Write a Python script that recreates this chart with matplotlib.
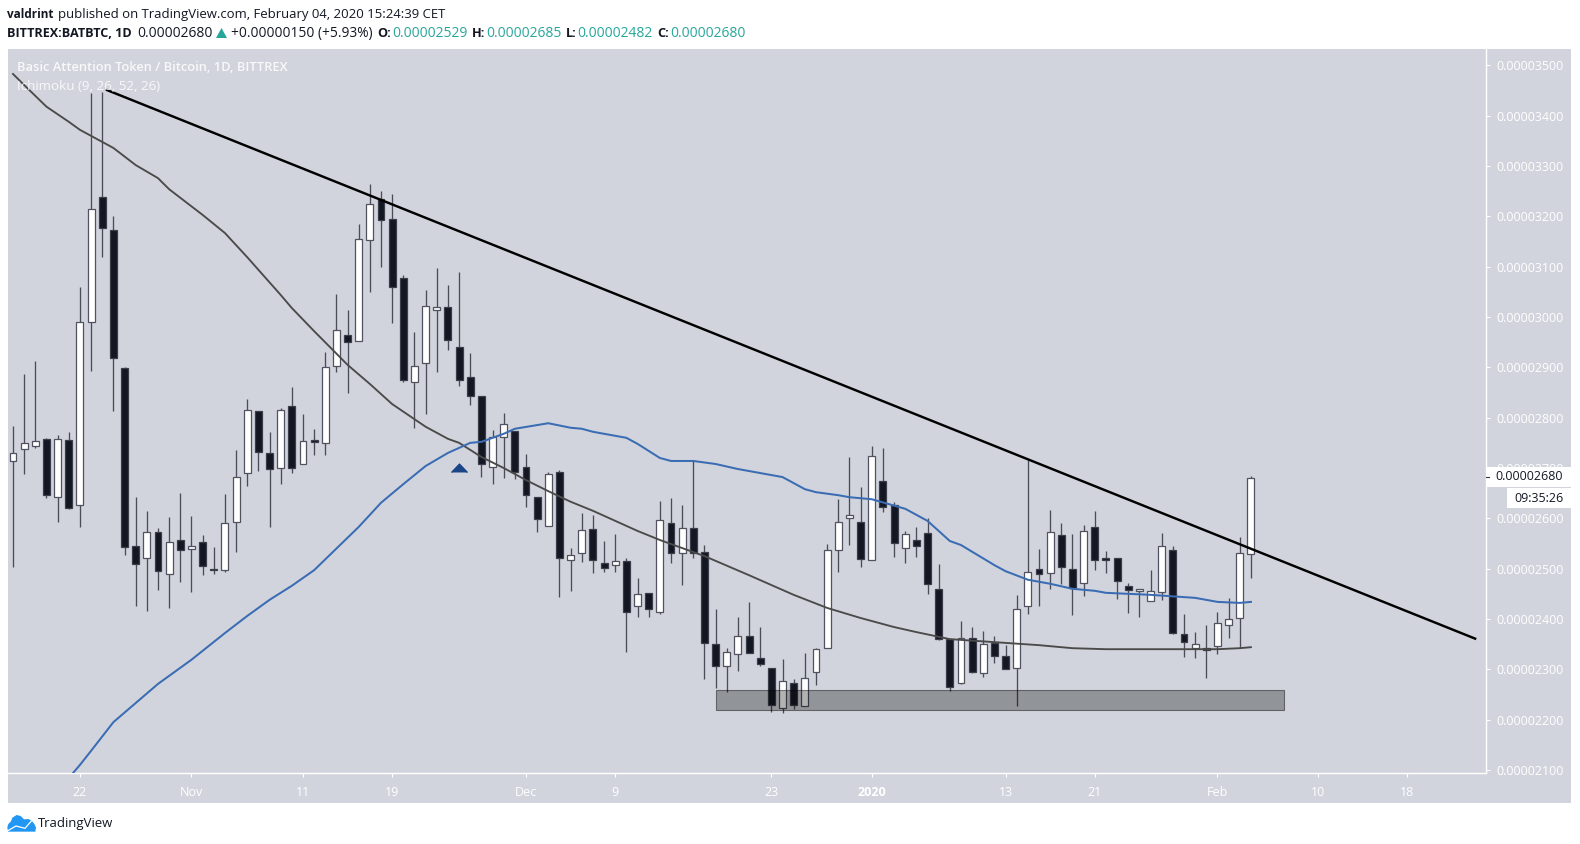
import numpy as np
import matplotlib
matplotlib.use('Agg')
import matplotlib.pyplot as plt
from matplotlib.patches import Rectangle, Polygon

plt.rcParams['font.family'] = ['Open Sans', 'DejaVu Sans']

# daily candles, prices in 1e-8 BTC, first candle is Oct 16 2019
opens = [2714,2738,2744,2758,2642,2756,2627,2991,3239,3172,2899,2546,2522,2573,2489,2557,2539,2553,2499,2497,
         2593,2690,2813,2730,2701,2824,2708,2756,2750,2903,2964,2952,3153,3235,3195,3078,2871,2909,3014,3019,
         2941,2881,2844,2702,2762,2774,2702,2643,2585,2693,2517,2531,2579,2511,2507,2515,2426,2452,2413,2591,
         2531,2581,2533,2350,2307,2330,2367,2323,2303,2223,2273,2227,2295,2342,2537,2601,2592,2517,2675,2627,
         2542,2557,2571,2460,2360,2273,2362,2293,2352,2327,2303,2426,2500,2491,2566,2500,2472,2583,2521,2522,
         2466,2456,2436,2454,2538,2371,2342,2343,2346,2388,2402,2529]
highs = [2784,2887,2913,2760,2766,2772,3060,3445,3447,3201,2901,2643,2615,2581,2603,2650,2605,2567,2543,2648,
         2736,2838,2813,2772,2819,2860,2807,2778,2931,3046,3013,3185,3264,3250,3245,3084,2971,3054,3098,3064,
         3090,2929,2844,2776,2809,2774,2728,2643,2693,2696,2541,2611,2607,2554,2569,2521,2481,2452,2635,2641,
         2627,2715,2547,2420,2342,2404,2434,2384,2303,2321,2281,2333,2343,2549,2639,2722,2663,2744,2740,2633,
         2575,2583,2601,2509,2360,2396,2384,2376,2366,2348,2448,2716,2539,2617,2591,2569,2587,2615,2536,2522,
         2472,2460,2497,2571,2545,2410,2374,2388,2414,2442,2562,2685]
lows = [2503,2688,2740,2641,2593,2619,2583,2893,3119,2814,2527,2426,2416,2458,2422,2474,2454,2487,2489,2494,
        2534,2665,2695,2583,2668,2690,2708,2725,2726,2891,2849,2952,3050,3100,2989,2871,2780,2807,2891,2935,
        2862,2825,2683,2668,2681,2679,2623,2573,2585,2444,2456,2514,2491,2493,2493,2335,2403,2403,2410,2512,
        2468,2521,2281,2263,2255,2297,2332,2307,2215,2213,2221,2227,2268,2342,2494,2547,2504,2517,2613,2523,
        2512,2523,2450,2358,2256,2271,2293,2285,2313,2301,2228,2410,2425,2460,2470,2408,2446,2497,2492,2440,
        2412,2403,2436,2438,2370,2324,2323,2283,2331,2362,2342,2482]
closes = [2730,2749,2754,2646,2758,2621,2990,3215,3177,2919,2544,2509,2573,2495,2553,2537,2546,2506,2497,2591,
          2682,2815,2732,2699,2815,2701,2754,2752,2901,2975,2950,3155,3225,3193,3060,2875,2903,3021,3019,2954,
          2874,2843,2708,2762,2788,2692,2646,2599,2689,2522,2527,2577,2517,2502,2515,2413,2450,2420,2597,2531,
          2581,2531,2352,2307,2334,2367,2332,2311,2229,2277,2229,2283,2340,2537,2593,2607,2519,2724,2623,2551,
          2569,2546,2470,2360,2264,2362,2295,2350,2327,2301,2420,2494,2489,2573,2503,2462,2575,2517,2517,2476,
          2458,2460,2456,2546,2373,2354,2351,2338,2393,2400,2531,2680]

grey_days = [0,1,3,5,6,8,9,11,13,14,17,19,21,22,24,25,27,30,32,34,37,39,40,42,44,46,48,50,52,54,56,58,62,66,70,73,76,79,81,84,88,92,95,98,108,110,111]
grey_vals = [3483,3461,3418,3388,3372,3348,3336,3302,3276,3254,3203,3167,3119,3094,3044,3018,2972,2905,2867,2827,2782,2758,2750,2722,2700,2676,2654,2633,2615,2595,2575,2557,2525,2487,2448,2422,2402,2384,2374,2360,2354,2348,2342,2340,2340,2342,2344]

blue_days = [5,6,7,9,11,13,16,19,21,23,25,27,31,33,35,37,39,41,42,44,45,48,50,51,52,55,56,58,59,61,63,65,69,71,72,74,75,77,80,82,84,85,88,89,91,93,95,97,98,102,106,108,110,111]
blue_vals = [2084,2110,2138,2195,2233,2271,2319,2372,2406,2438,2466,2497,2583,2631,2668,2704,2730,2750,2752,2768,2778,2789,2780,2778,2772,2760,2748,2720,2714,2714,2708,2698,2682,2658,2652,2646,2642,2638,2619,2595,2555,2547,2507,2495,2478,2470,2460,2456,2452,2448,2442,2434,2432,2434]

trend_days = [8.43, 131.1]
trend_vals = [3451, 2361]

zone_days = [63, 114]
zone_vals = [2220, 2258]

arrow_day = 40
arrow_val = 2700

price_ticks = [2100,2200,2300,2400,2500,2600,2700,2800,2900,3000,3100,3200,3300,3400,3500]
price_labels = ['0.%08d' % p for p in price_ticks]
date_ticks = [6,16,26,34,46,54,68,77,89,97,108,117,125]
date_labels = ['22','Nov','11','19','Dec','9','23','2020','13','21','Feb','10','18']

W, H = 1580, 844
PANEL = '#d1d4dc'
DARK = '#131722'
TEAL = '#26a69a'

fig = plt.figure(figsize=(W / 100, H / 100), dpi=100, facecolor='white')

# overlay in pixel coords for everything that is page furniture
ov = fig.add_axes([0, 0, 1, 1], zorder=10)
ov.set_xlim(0, W)
ov.set_ylim(H, 0)
ov.axis('off')
ov.patch.set_alpha(0)

fig.add_artist(Rectangle((8 / W, 1 - 802.7 / H), 1563 / W, (802.7 - 49) / H, transform=fig.transFigure,
                         facecolor=PANEL, edgecolor='none', zorder=-5))

# main chart, limits set so candle i lands at 13 + 11.153 i
L, R, T, B = 8, 1485.7, 49, 773.3
ax = fig.add_axes([L / W, 1 - B / H, (R - L) / W, (B - T) / H], zorder=1)
ax.set_facecolor(PANEL)
ax.set_xlim(-0.448, 132.05)
ax.set_ylim(2093.4, 3532.6)
for s in ['top', 'left']:
    ax.spines[s].set_visible(False)
for s in ['right', 'bottom']:
    ax.spines[s].set_color('white')
    ax.spines[s].set_linewidth(1.0)

days = np.arange(len(opens))
o = np.array(opens)
c = np.array(closes)
up = c >= o
ax.vlines(days, lows, highs, color='#4a4d59', linewidth=0.95, zorder=2)
ax.bar(days[up], np.abs(c - o)[up], bottom=np.minimum(o, c)[up], width=0.62,
       facecolor='white', edgecolor='#50535f', linewidth=0.9, zorder=3)
ax.bar(days[~up], np.abs(c - o)[~up], bottom=np.minimum(o, c)[~up], width=0.62,
       facecolor=DARK, edgecolor='#3b3e4a', linewidth=0.9, zorder=3)

ax.plot(grey_days, grey_vals, color='#4a4a4a', linewidth=1.35, zorder=4)
ax.plot(blue_days, blue_vals, color='#3a6cb4', linewidth=1.45, zorder=4)
ax.plot(trend_days, trend_vals, color='black', linewidth=1.75, zorder=5)

ax.add_patch(Rectangle((zone_days[0], zone_vals[0]), zone_days[1] - zone_days[0], zone_vals[1] - zone_vals[0],
                       facecolor=(0, 0, 0, 0.3), edgecolor=(0, 0, 0, 0.45), linewidth=0.8, zorder=6))
ax.plot([arrow_day], [arrow_val], marker=[(-1, -0.5), (0, 0.55), (1, -0.5)], markersize=11.5,
        color='#1c4587', linestyle='none', zorder=5)

ax.yaxis.tick_right()
ax.set_yticks(price_ticks)
ax.set_yticklabels(price_labels, fontsize=9, color='white')
ax.set_xticks(date_ticks)
ax.set_xticklabels(date_labels, fontsize=9, color='white')
for t in ax.get_xticklabels():
    if t.get_text() == '2020':
        t.set_fontweight('bold')
ax.tick_params(axis='y', length=3, width=0.8, color='white', pad=5)
ax.tick_params(axis='x', length=3, width=0.8, color='white', pad=6)

# watermark
ov.text(17, 67.5, 'Basic Attention Token / Bitcoin, 1D, BITTREX', color='white', alpha=0.85,
        fontsize=9.3, fontweight='semibold', va='center', ha='left')
ov.text(17, 87, 'Ichimoku (9, 26, 52, 26)', color='white', alpha=0.85, fontsize=9.6, va='center', ha='left')

# last price and countdown boxes
ov.add_patch(Rectangle((1486.5, 467), 85, 20, facecolor='white', edgecolor='none'))
ov.add_patch(Rectangle((1507, 488), 64, 20, facecolor='white', edgecolor='none'))
ov.plot([1486, 1489], [477, 477], color='#333333', linewidth=0.8)
ov.text(1495, 477, '0.00002680', color=DARK, fontsize=9, va='center', ha='left')
ov.text(1539, 498, '09:35:26', color=DARK, fontsize=9, va='center', ha='center')

# header rows: x position, text, colour, weight, size
header_top = [(7, 'valdrint', DARK, 'bold', 8.5),
              (58, 'published on TradingView.com, February 04, 2020 15:24:39 CET', DARK, 'normal', 9.45)]
header_bottom = [(7, 'BITTREX:BATBTC, 1D', DARK, 'bold', 9.1),
                 (137, '0.00002680', DARK, 'normal', 10),
                 (231, '+0.00000150 (+5.93%)', DARK, 'normal', 9.9),
                 (377, 'O:', DARK, 'bold', 9.2), (392, '0.00002529', TEAL, 'normal', 10),
                 (472, 'H:', DARK, 'bold', 9.2), (486, '0.00002685', TEAL, 'normal', 10),
                 (566, 'L:', DARK, 'bold', 9.2), (577, '0.00002482', TEAL, 'normal', 10),
                 (657, 'C:', DARK, 'bold', 9.2), (670, '0.00002680', TEAL, 'normal', 10)]
for px, text, col, weight, size in header_top:
    ov.text(px, 14.5, text, color=col, fontweight=weight, fontsize=size, va='center', ha='left')
for px, text, col, weight, size in header_bottom:
    ov.text(px, 33.5, text, color=col, fontweight=weight, fontsize=size, va='center', ha='left')
ov.add_patch(Polygon([(216, 38), (221.5, 28), (227, 38)], facecolor=TEAL, edgecolor='none'))

# TradingView logo
cloud = np.array([(22,232),(25,222),(33,214),(37,203),(50,195),(62,198),(72,208),(85,207),(95,212),(103,222),(108,232),(106,245),(24,245)]) / 3.0 + [0, 750]
ov.add_patch(Polygon(cloud, facecolor='#2196f3', edgecolor='none'))
swoosh = np.array([(22,243),(48,228),(75,235),(95,212)]) / 3.0 + [0, 750]
ov.plot(swoosh[:, 0], swoosh[:, 1], color='white', linewidth=0.9)
ov.text(38, 823, 'TradingView', color=DARK, fontsize=9.45, va='center', ha='left')

fig.savefig('out.png', dpi=100, facecolor='white')
